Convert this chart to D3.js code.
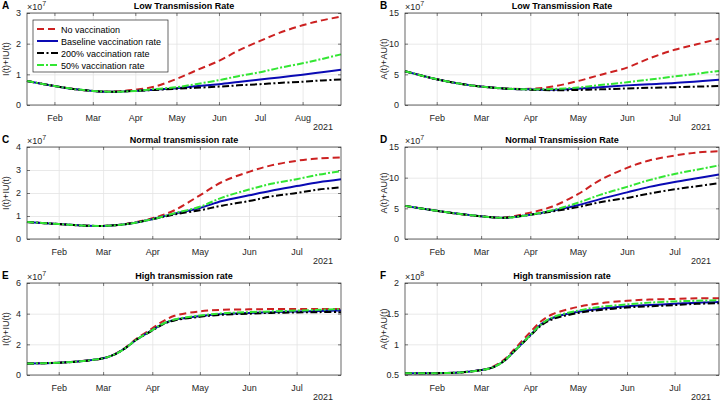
<!DOCTYPE html>
<html>
<head>
<meta charset="utf-8">
<style>
  body { margin: 0; background: #fff; }
  text { font-family: "Liberation Sans", Arial, sans-serif; fill: #262626; }
  .title { font-size: 9px; font-weight: bold; fill: #000; }
  .letter { font-size: 10px; font-weight: bold; fill: #000; }
  .tick text { font-size: 9px; fill: #262626; }
  .grid line { stroke: #e3e3e3; stroke-width: 0.8; }
  .grid path { display: none; }
  .ticks line { stroke: #262626; stroke-width: 0.6; }
  .ticks path { display: none; }
  .ylabel, .year, .expo { font-size: 9px; }
  .legend text { font-size: 9px; fill: #000; }
</style>
</head>
<body>
<script src="https://cdn.jsdelivr.net/npm/d3@7"></script>
<script>
// sample dates
const datesLong = ["2021-01-12","2021-02-01","2021-02-15","2021-03-01","2021-03-15","2021-04-01","2021-04-15",
  "2021-05-01","2021-05-15","2021-06-01","2021-06-15","2021-07-01","2021-07-15","2021-08-01","2021-08-15","2021-08-29"];
const datesShort = ["2021-01-12","2021-02-01","2021-02-15","2021-03-01","2021-03-15","2021-04-01","2021-04-15",
  "2021-05-01","2021-05-15","2021-06-01","2021-06-15","2021-07-01","2021-07-15","2021-07-29"];
const datesHigh = ["2021-01-12","2021-02-01","2021-02-15","2021-03-01","2021-03-08","2021-03-15","2021-03-22",
  "2021-04-01","2021-04-08","2021-04-15","2021-05-01","2021-05-15","2021-06-01","2021-06-15","2021-07-01","2021-07-15","2021-07-29"];

const seriesNames = ["No vaccination", "Baseline vaccination rate", "200% vaccination rate", "50% vaccination rate"];

// A: low transmission, I(t)+IU(t), x10^7
const aNoVac = [0.78,0.62,0.52,0.46,0.44,0.50,0.60,0.85,1.12,1.44,1.77,2.09,2.35,2.60,2.76,2.88];
const aBase  = [0.78,0.62,0.52,0.46,0.43,0.46,0.50,0.55,0.61,0.68,0.75,0.83,0.90,0.99,1.07,1.15];
const a200   = [0.78,0.62,0.52,0.46,0.43,0.46,0.49,0.53,0.56,0.60,0.64,0.68,0.72,0.76,0.80,0.83];
const a50    = [0.78,0.62,0.52,0.46,0.43,0.46,0.52,0.58,0.68,0.81,0.94,1.07,1.21,1.36,1.50,1.65];

// B: low transmission, A(t)+AU(t), x10^7
const bNoVac = [5.5,4.2,3.5,3.0,2.7,2.65,3.0,3.9,4.9,6.1,7.6,9.0,9.9,10.8];
const bBase  = [5.5,4.2,3.5,3.0,2.7,2.55,2.5,2.65,2.9,3.2,3.4,3.6,3.85,4.1];
const b200   = [5.5,4.2,3.5,3.0,2.7,2.5,2.4,2.45,2.55,2.7,2.8,2.9,3.0,3.1];
const b50    = [5.5,4.2,3.5,3.0,2.7,2.55,2.6,2.85,3.25,3.7,4.15,4.65,5.1,5.55];

// C: normal transmission, I(t)+IU(t), x10^7
const cNoVac = [0.74,0.65,0.59,0.57,0.65,0.90,1.25,1.9,2.48,2.92,3.2,3.4,3.5,3.55];
const cBase  = [0.74,0.65,0.59,0.57,0.64,0.86,1.10,1.35,1.65,1.9,2.1,2.3,2.47,2.6];
const c200   = [0.74,0.65,0.59,0.57,0.64,0.86,1.07,1.25,1.45,1.65,1.85,2.0,2.15,2.25];
const c50    = [0.74,0.65,0.59,0.57,0.64,0.86,1.12,1.4,1.8,2.15,2.4,2.6,2.8,2.95];

// D: normal transmission, A(t)+AU(t), x10^7
const dNoVac = [5.4,4.6,4.1,3.7,3.5,4.3,5.3,7.3,9.6,11.6,12.8,13.6,14.1,14.3];
const dBase  = [5.4,4.6,4.1,3.7,3.45,3.95,4.6,5.5,6.5,7.6,8.5,9.3,9.9,10.5];
const d200   = [5.4,4.6,4.1,3.7,3.45,3.95,4.5,5.2,6.0,6.7,7.4,8.1,8.6,9.1];
const d50    = [5.4,4.6,4.1,3.7,3.45,3.95,4.7,5.9,7.2,8.5,9.6,10.6,11.3,12.0];

// E: high transmission, I(t)+IU(t), x10^7
const eNoVac = [0.75,0.80,0.90,1.09,1.34,1.78,2.36,3.04,3.52,3.86,4.15,4.25,4.28,4.30,4.30,4.30,4.30];
const eBase  = [0.75,0.80,0.90,1.09,1.33,1.75,2.30,2.93,3.35,3.60,3.85,3.98,4.05,4.10,4.14,4.17,4.20];
const e200   = [0.75,0.80,0.90,1.09,1.33,1.75,2.30,2.90,3.32,3.56,3.80,3.93,4.00,4.05,4.08,4.10,4.10];
const e50    = [0.75,0.80,0.90,1.09,1.33,1.75,2.30,2.93,3.36,3.62,3.88,4.02,4.10,4.15,4.20,4.25,4.30];

// F: high transmission, A(t)+AU(t), x10^8
const fNoVac = [0.53,0.53,0.54,0.58,0.63,0.74,0.92,1.20,1.38,1.49,1.61,1.67,1.71,1.73,1.74,1.75,1.75];
const fBase  = [0.53,0.53,0.54,0.58,0.62,0.72,0.89,1.15,1.33,1.43,1.53,1.58,1.62,1.64,1.66,1.68,1.69];
const f200   = [0.53,0.53,0.54,0.58,0.62,0.72,0.89,1.14,1.31,1.41,1.51,1.56,1.60,1.62,1.64,1.66,1.67];
const f50    = [0.53,0.53,0.54,0.58,0.62,0.72,0.89,1.15,1.33,1.44,1.55,1.61,1.65,1.68,1.70,1.71,1.72];

// tick labels
const ticksA = [0,1,2,3];
const ticksB = [0,5,10,15];
const ticksC = [0,1,2,3,4];
const ticksE = [0,2,4,6];
const ticksF = [0.5,1,1.5,2];

// line styles, same order as seriesNames
const styles = [
  { color: "#cc2121", dash: "7,4" },
  { color: "#0a0ab4", dash: null },
  { color: "#000000", dash: "7,2.5,2,2.5" },
  { color: "#33e633", dash: "7,2,2,2" }
];

const panels = [
  { id: "A", title: "Low Transmission Rate", ylab: "I(t)+IU(t)", exp: "7", dates: datesLong, series: [aNoVac, aBase, a200, a50], yTicks: ticksA, col: 0, row: 0 },
  { id: "B", title: "Low Transmission Rate", ylab: "A(t)+AU(t)", exp: "7", dates: datesShort, series: [bNoVac, bBase, b200, b50], yTicks: ticksB, col: 1, row: 0 },
  { id: "C", title: "Normal transmission rate", ylab: "I(t)+IU(t)", exp: "7", dates: datesShort, series: [cNoVac, cBase, c200, c50], yTicks: ticksC, col: 0, row: 1 },
  { id: "D", title: "Normal Transmission Rate", ylab: "A(t)+AU(t)", exp: "7", dates: datesShort, series: [dNoVac, dBase, d200, d50], yTicks: ticksB, col: 1, row: 1 },
  { id: "E", title: "High transmission rate", ylab: "I(t)+IU(t)", exp: "7", dates: datesHigh, series: [eNoVac, eBase, e200, e50], yTicks: ticksE, col: 0, row: 2 },
  { id: "F", title: "High transmission rate", ylab: "A(t)+AU(t)", exp: "8", dates: datesHigh, series: [fNoVac, fBase, f200, f50], yTicks: ticksF, col: 1, row: 2 }
];

const colLeft = [27, 405];
const rowTop = [13, 147, 283];
const W = 314, H = 92;

const parse = d3.utcParse("%Y-%m-%d");

const svg = d3.select("body").append("svg")
  .attr("width", 728)
  .attr("height", 401);

panels.forEach(function (p) {
  const left = colLeft[p.col], top = rowTop[p.row];
  const dates = p.dates.map(parse);

  const x = d3.scaleUtc().domain([dates[0], dates[dates.length - 1]]).range([0, W]);
  const y = d3.scaleLinear().domain([p.yTicks[0], p.yTicks[p.yTicks.length - 1]]).range([H, 0]);
  const months = d3.utcMonth.range(d3.utcMonth.ceil(dates[0]), dates[dates.length - 1]);

  const g = svg.append("g").attr("transform", `translate(${left},${top})`);

  // grid
  g.append("g").attr("class", "grid")
    .attr("transform", `translate(0,${H})`)
    .call(d3.axisBottom(x).tickValues(months).tickSize(-H).tickFormat(""));
  g.append("g").attr("class", "grid")
    .call(d3.axisLeft(y).tickValues(p.yTicks).tickSize(-W).tickFormat(""));

  // curves
  const line = d3.line()
    .x((d, i) => x(dates[i]))
    .y(d => y(d))
    .curve(d3.curveCatmullRom.alpha(0.5));

  p.series.forEach(function (vals, k) {
    g.append("path")
      .attr("d", line(vals))
      .attr("fill", "none")
      .attr("stroke", styles[k].color)
      .attr("stroke-width", 2)
      .attr("stroke-dasharray", styles[k].dash);
  });

  // inward ticks on all four sides (box on)
  const xb = g.append("g").attr("class", "ticks")
    .attr("transform", `translate(0,${H})`)
    .call(d3.axisBottom(x).tickValues(months).tickSize(-3).tickPadding(8).tickFormat(d3.utcFormat("%b")));
  xb.selectAll(".tick text").attr("dy", "0.9em");
  g.append("g").attr("class", "ticks")
    .call(d3.axisTop(x).tickValues(months).tickSize(-3).tickFormat(""));
  g.append("g").attr("class", "ticks")
    .call(d3.axisLeft(y).tickValues(p.yTicks).tickSize(-3).tickPadding(6).tickFormat(d3.format("~g")));
  g.append("g").attr("class", "ticks")
    .attr("transform", `translate(${W},0)`)
    .call(d3.axisRight(y).tickValues(p.yTicks).tickSize(-3).tickFormat(""));

  g.append("rect")
    .attr("width", W).attr("height", H)
    .attr("fill", "none").attr("stroke", "#262626").attr("stroke-width", 0.7);

  // texts
  g.append("text").attr("class", "title")
    .attr("x", W / 2).attr("y", -4)
    .attr("text-anchor", "middle")
    .text(p.title);

  const ex = g.append("text").attr("class", "expo")
    .attr("x", 0).attr("y", -3);
  ex.append("tspan").text("\u00d710");
  ex.append("tspan").attr("dy", -4).attr("font-size", "7px").text(p.exp);

  g.append("text").attr("class", "year")
    .attr("x", W - 8).attr("y", H + 25)
    .attr("text-anchor", "end")
    .text("2021");

  g.append("text").attr("class", "ylabel")
    .attr("transform", `translate(${-18},${H / 2}) rotate(-90)`)
    .attr("text-anchor", "middle")
    .text(p.ylab);

  g.append("text").attr("class", "letter")
    .attr("x", -25).attr("y", -4)
    .text(p.id);
});

// legend in panel A
const legend = svg.append("g").attr("class", "legend")
  .attr("transform", "translate(33,20)");
legend.append("rect")
  .attr("width", 135).attr("height", 52)
  .attr("fill", "#fff").attr("stroke", "#262626").attr("stroke-width", 0.7);
seriesNames.forEach(function (name, k) {
  const ly = 9 + k * 12;
  legend.append("line")
    .attr("x1", 4).attr("x2", 25).attr("y1", ly).attr("y2", ly)
    .attr("stroke", styles[k].color).attr("stroke-width", 2)
    .attr("stroke-dasharray", styles[k].dash);
  legend.append("text")
    .attr("x", 28).attr("y", ly + 3.5)
    .text(name);
});
</script>
</body>
</html>
